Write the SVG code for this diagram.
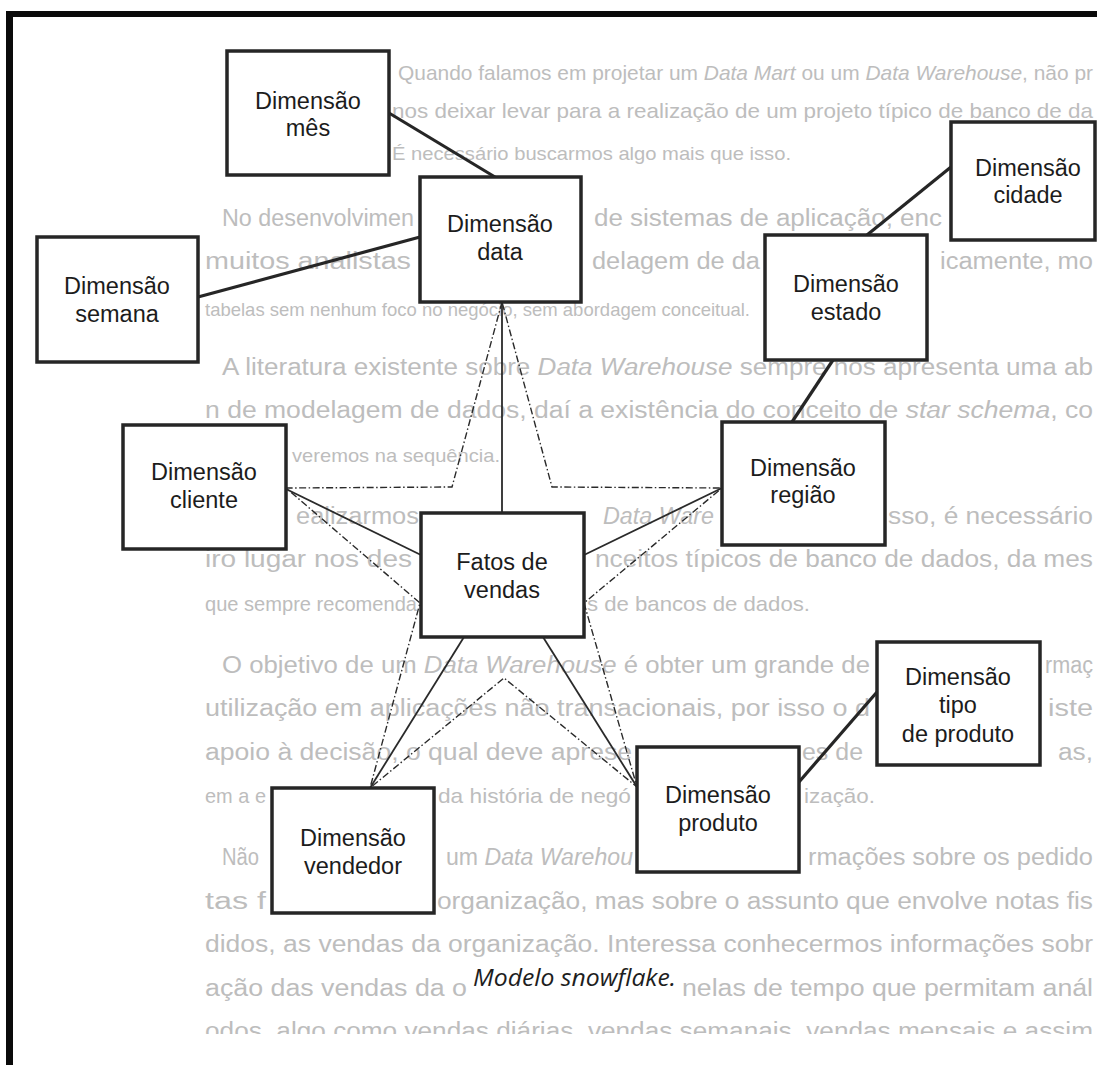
<svg xmlns="http://www.w3.org/2000/svg" width="1097" height="1065" viewBox="0 0 1097 1065">
  <style>
    .page { font-family: "Liberation Sans", Arial, sans-serif; font-size: 23px; fill: #bdbdbd; }
    .page .it { font-style: italic; }
    .page .s20 { font-size: 20.3px; }
    .page .s19 { font-size: 19px; }
    .page .s18 { font-size: 17.8px; }
    .page .s21 { font-size: 21px; }
    .box { fill: #ffffff; stroke: #262626; stroke-width: 3.5; }
    .lbl { font-family: "Liberation Sans", Arial, sans-serif; font-size: 23.5px; fill: #1c1c1c; text-anchor: middle; }
    .heavy { stroke: #262626; stroke-width: 3.2; fill: none; }
    .thin { stroke: #2a2a2a; stroke-width: 1.8; fill: none; }
    .dashdot { stroke: #2a2a2a; stroke-width: 1.4; fill: none; stroke-dasharray: 7 2.5 1.5 2.5; stroke-linejoin: miter; }
    .caption { font-family: "Open Sans", "Noto Sans", sans-serif; font-style: italic; font-size: 24px; fill: #1e1e1e; }
  </style>
  <defs>
    <clipPath id="lastLineClip">
      <rect x="13" y="1000" width="1084" height="34"/>
    </clipPath>
  </defs>

  <rect x="0" y="0" width="1097" height="1065" fill="#ffffff"/>

  <!-- printed text of the book page behind the figure (only the parts left uncovered by the boxes) -->
  <g id="page-text" class="page">
    <text x="398" y="80" class="s20" textLength="695" lengthAdjust="spacingAndGlyphs">Quando falamos em projetar um <tspan class="it">Data Mart</tspan> ou um <tspan class="it">Data Warehouse</tspan>, não pr</text>
    <text x="392" y="118" class="s20" textLength="701" lengthAdjust="spacingAndGlyphs">nos deixar levar para a realização de um projeto típico de banco de da</text>
    <text x="392" y="160" class="s19" textLength="399" lengthAdjust="spacingAndGlyphs">É necessário buscarmos algo mais que isso.</text>

    <text x="222" y="226" textLength="192" lengthAdjust="spacingAndGlyphs">No desenvolvimen</text>
    <text x="594" y="226" textLength="348" lengthAdjust="spacingAndGlyphs">de sistemas de aplicação, enc</text>
    <text x="205" y="269" textLength="206" lengthAdjust="spacingAndGlyphs">muitos analistas</text>
    <text x="592" y="269" textLength="168" lengthAdjust="spacingAndGlyphs">delagem de da</text>
    <text x="940" y="269" textLength="153" lengthAdjust="spacingAndGlyphs">icamente, mo</text>
    <text x="205" y="316" class="s18" textLength="545" lengthAdjust="spacingAndGlyphs">tabelas sem nenhum foco no negócio, sem abordagem conceitual.</text>

    <text x="222" y="375" textLength="871" lengthAdjust="spacingAndGlyphs">A literatura existente sobre <tspan class="it">Data Warehouse</tspan> sempre nos apresenta uma ab</text>
    <text x="205" y="418" textLength="888" lengthAdjust="spacingAndGlyphs">n de modelagem de dados, daí a existência do conceito de <tspan class="it">star schema</tspan>, co</text>
    <text x="292" y="462" class="s19" textLength="208" lengthAdjust="spacingAndGlyphs">veremos na sequência.</text>

    <text x="296" y="524" textLength="123" lengthAdjust="spacingAndGlyphs">ealizarmos</text>
    <text x="603" y="524" textLength="111" lengthAdjust="spacingAndGlyphs" class="it">Data Ware</text>
    <text x="888" y="524" textLength="205" lengthAdjust="spacingAndGlyphs">sso, é necessário</text>
    <text x="205" y="567" textLength="207" lengthAdjust="spacingAndGlyphs">iro lugar nos des</text>
    <text x="595" y="567" textLength="498" lengthAdjust="spacingAndGlyphs">nceitos típicos de banco de dados, da mes</text>
    <text x="205" y="611" class="s21" textLength="212" lengthAdjust="spacingAndGlyphs">que sempre recomenda</text>
    <text x="587" y="611" class="s21" textLength="223" lengthAdjust="spacingAndGlyphs">s de bancos de dados.</text>

    <text x="222" y="673" textLength="648" lengthAdjust="spacingAndGlyphs">O objetivo de um <tspan class="it">Data Warehouse</tspan> é obter um grande de</text>
    <text x="1045" y="673" textLength="48" lengthAdjust="spacingAndGlyphs">rmaç</text>
    <text x="205" y="716" textLength="665" lengthAdjust="spacingAndGlyphs">utilização em aplicações não transacionais, por isso o d</text>
    <text x="1048" y="716" textLength="45" lengthAdjust="spacingAndGlyphs">iste</text>
    <text x="205" y="760" textLength="427" lengthAdjust="spacingAndGlyphs">apoio à decisão, o qual deve aprese</text>
    <text x="802" y="760" textLength="61" lengthAdjust="spacingAndGlyphs">es de</text>
    <text x="1058" y="760" textLength="35" lengthAdjust="spacingAndGlyphs">as,</text>
    <text x="205" y="803" class="s20" textLength="61" lengthAdjust="spacingAndGlyphs">em a e</text>
    <text x="438" y="803" class="s20" textLength="193" lengthAdjust="spacingAndGlyphs">da história de negó</text>
    <text x="804" y="803" class="s20" textLength="71" lengthAdjust="spacingAndGlyphs">ização.</text>

    <text x="222" y="865" textLength="37" lengthAdjust="spacingAndGlyphs">Não</text>
    <text x="446" y="865" textLength="187" lengthAdjust="spacingAndGlyphs">um <tspan class="it">Data Warehou</tspan></text>
    <text x="808" y="865" textLength="285" lengthAdjust="spacingAndGlyphs">rmações sobre os pedido</text>
    <text x="205" y="909" textLength="61" lengthAdjust="spacingAndGlyphs">tas f</text>
    <text x="437" y="909" textLength="656" lengthAdjust="spacingAndGlyphs">organização, mas sobre o assunto que envolve notas fis</text>
    <text x="205" y="952" textLength="888" lengthAdjust="spacingAndGlyphs">didos, as vendas da organização. Interessa conhecermos informações sobr</text>
    <text x="205" y="996" textLength="262" lengthAdjust="spacingAndGlyphs">ação das vendas da o</text>
    <text x="682" y="996" textLength="411" lengthAdjust="spacingAndGlyphs">nelas de tempo que permitam anál</text>
    <text x="205" y="1039" textLength="888" lengthAdjust="spacingAndGlyphs" clip-path="url(#lastLineClip)">odos, algo como vendas diárias, vendas semanais, vendas mensais e assim</text>
  </g>

  <!-- connectors: solid links between tables, star outline in dash-dot -->
  <g id="connectors">
    <line class="heavy" x1="389" y1="113" x2="495" y2="177"/>
    <line class="heavy" x1="198" y1="297" x2="420" y2="237"/>
    <line class="heavy" x1="951" y1="167" x2="867" y2="235"/>
    <line class="heavy" x1="833" y1="360" x2="792" y2="422"/>
    <line class="heavy" x1="877" y1="692" x2="799" y2="782"/>

    <line class="thin" x1="502" y1="302" x2="502" y2="513"/>
    <line class="thin" x1="286" y1="489" x2="421" y2="555"/>
    <line class="thin" x1="584" y1="555" x2="722" y2="488"/>
    <line class="thin" x1="464" y1="637" x2="370" y2="788"/>
    <line class="thin" x1="543" y1="637" x2="637" y2="787"/>

    <path class="dashdot" d="M502,302 L452,487 L286,488 L420,603 L370,788 L504,678 L637,787 L584,603 L722,488 L552,487 Z"/>
  </g>

  <g id="dim-mes">
    <rect class="box" x="227" y="51" width="162" height="124"/>
    <text class="lbl" x="308" y="109">Dimensão</text>
    <text class="lbl" x="308" y="136">mês</text>
  </g>
  <g id="dim-data">
    <rect class="box" x="420" y="177" width="161" height="125"/>
    <text class="lbl" x="500" y="232">Dimensão</text>
    <text class="lbl" x="500" y="260">data</text>
  </g>
  <g id="dim-semana">
    <rect class="box" x="37" y="237" width="161" height="125"/>
    <text class="lbl" x="117" y="294">Dimensão</text>
    <text class="lbl" x="117" y="322">semana</text>
  </g>
  <g id="dim-cidade">
    <rect class="box" x="951" y="122" width="144" height="118"/>
    <text class="lbl" x="1028" y="176">Dimensão</text>
    <text class="lbl" x="1028" y="203">cidade</text>
  </g>
  <g id="dim-estado">
    <rect class="box" x="765" y="235" width="162" height="125"/>
    <text class="lbl" x="846" y="292">Dimensão</text>
    <text class="lbl" x="846" y="320">estado</text>
  </g>
  <g id="dim-cliente">
    <rect class="box" x="123" y="425" width="163" height="124"/>
    <text class="lbl" x="204" y="480">Dimensão</text>
    <text class="lbl" x="204" y="508">cliente</text>
  </g>
  <g id="dim-regiao">
    <rect class="box" x="722" y="422" width="163" height="123"/>
    <text class="lbl" x="803" y="476">Dimensão</text>
    <text class="lbl" x="803" y="503">região</text>
  </g>
  <g id="fatos-vendas">
    <rect class="box" x="421" y="513" width="163" height="124"/>
    <text class="lbl" x="502" y="570">Fatos de</text>
    <text class="lbl" x="502" y="598">vendas</text>
  </g>
  <g id="dim-tipo-produto">
    <rect class="box" x="877" y="642" width="163" height="123"/>
    <text class="lbl" x="958" y="685">Dimensão</text>
    <text class="lbl" x="958" y="713">tipo</text>
    <text class="lbl" x="958" y="742">de produto</text>
  </g>
  <g id="dim-produto">
    <rect class="box" x="637" y="747" width="162" height="125"/>
    <text class="lbl" x="718" y="803">Dimensão</text>
    <text class="lbl" x="718" y="831">produto</text>
  </g>
  <g id="dim-vendedor">
    <rect class="box" x="272" y="788" width="162" height="125"/>
    <text class="lbl" x="353" y="846">Dimensão</text>
    <text class="lbl" x="353" y="874">vendedor</text>
  </g>

  <text id="caption" class="caption" x="473" y="986" textLength="203" lengthAdjust="spacingAndGlyphs">Modelo snowflake.</text>

  <!-- frame of the figure -->
  <g id="frame" fill="#0a0a0a">
    <rect x="6" y="11" width="1091" height="6"/>
    <rect x="6" y="11" width="7" height="1054"/>
  </g>
</svg>
